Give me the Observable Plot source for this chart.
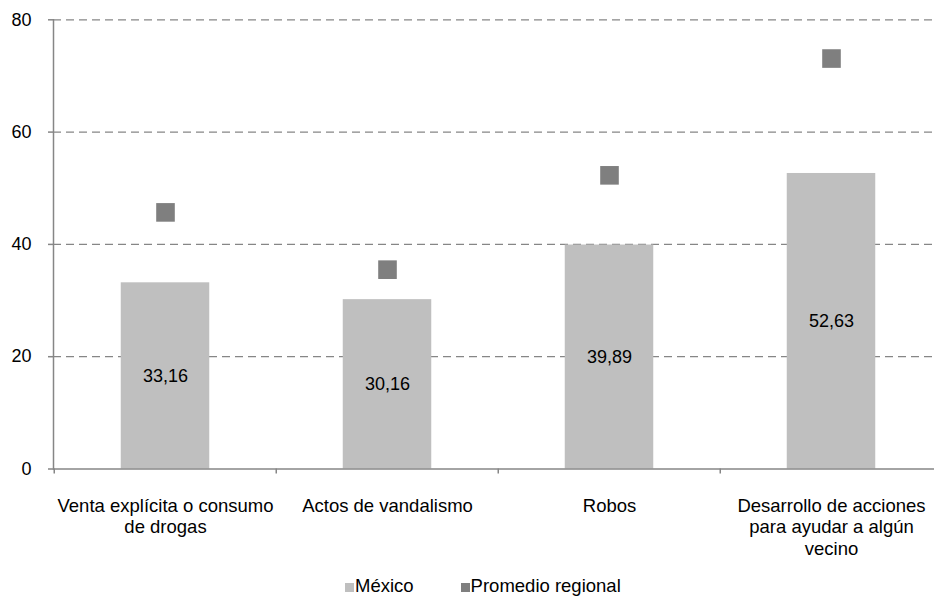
<!DOCTYPE html>
<html><head><meta charset="utf-8">
<script src="https://cdn.jsdelivr.net/npm/d3@7"></script>
<script src="https://cdn.jsdelivr.net/npm/@observablehq/plot@0.6"></script>
<style>
body{margin:0;overflow:hidden;background:#fff;font-family:"Liberation Sans",Arial,sans-serif;}
#chart{position:relative;width:934px;height:597px;overflow:hidden;}
#chart svg{display:block;}
.legend{position:absolute;left:345px;top:575px;font-size:18.5px;line-height:21px;color:#000;white-space:nowrap;}
.item{display:inline-block;}
.sw{display:inline-block;width:9px;height:9px;margin-right:1px;vertical-align:0px;}
</style></head>
<body>
<div id="chart"></div>
<script>
const categories = ["Venta explícita o consumo de drogas","Actos de vandalismo","Robos","Desarrollo de acciones para ayudar a algún vecino"];
const tickLabels = ["Venta explícita o consumo\nde drogas","Actos de vandalismo","Robos","Desarrollo de acciones\npara ayudar a algún\nvecino"];
const mexico = [33.16,30.16,39.89,52.63];
const regional = [45.7,35.5,52.3,73.1];
const yTicks = [0,20,40,60,80];
const seriesNames = ["México","Promedio regional"];
const seriesColors = ["#bfbfbf","#7f7f7f"];

const data = categories.map((c,i)=>({category:c, mexico:mexico[i], regional:regional[i]}));
const x0 = 53, x1 = 943;
const bw = (x1 - x0) / categories.length;
const barW = 89;
const inset = (bw - barW) / 2;
const axisColor = "#868686";

const chart = Plot.plot({
  width: 934, height: 572,
  marginLeft: 53, marginRight: 0, marginTop: 19.3, marginBottom: 103.5,
  style: {fontFamily: '"Liberation Sans", Arial, sans-serif', fontSize: "18px", color: "#000", background: "#fff", overflow: "hidden"},
  x: {domain: categories, range: [x0, x1], padding: 0, label: null},
  y: {domain: [0, 80], label: null},
  marks: [
    Plot.gridY(yTicks.filter(t => t > 0), {stroke: axisColor, strokeOpacity: 1, strokeWidth: 1.3, strokeDasharray: "8,5"}),
    Plot.barY(data, {x: "category", y: "mexico", fill: seriesColors[0], insetLeft: inset, insetRight: inset}),
    Plot.frame({anchor: "left", stroke: axisColor, strokeWidth: 1.5}),
    Plot.ruleY([0], {stroke: axisColor, strokeWidth: 1.5}),
    Plot.axisY(yTicks, {tickSize: 5, tickPadding: 17, stroke: axisColor, strokeWidth: 1.5, fill: "#000", fontSize: 18, label: null}),
    Plot.axisX({tickSize: 5, dx: -bw / 2, tickFormat: () => "", stroke: axisColor, strokeWidth: 1.5, label: null}),
    Plot.axisX({tickSize: 0, tickPadding: 28, tickFormat: d => tickLabels[categories.indexOf(d)], lineHeight: 1.15, fontSize: 18.5, fill: "#000", label: null}),
    Plot.text(data, {x: "category", y: d => d.mexico / 2, text: d => d.mexico.toFixed(2).replace(".", ","), fontSize: 18, fill: "#000"}),
    Plot.dot(data, {x: "category", y: "regional", symbol: "square", r: 10.5, fill: seriesColors[1], stroke: "none"})
  ]
});

const root = document.getElementById("chart");
root.appendChild(chart);
const legend = document.createElement("div");
legend.className = "legend";
seriesNames.forEach((n, i) => {
  const it = document.createElement("span");
  it.className = "item";
  if (i === 0) it.style.marginRight = "47px";
  const sw = document.createElement("span");
  sw.className = "sw";
  sw.style.background = seriesColors[i];
  it.appendChild(sw);
  it.appendChild(document.createTextNode(n));
  legend.appendChild(it);
});
root.appendChild(legend);
</script>
</body></html>
